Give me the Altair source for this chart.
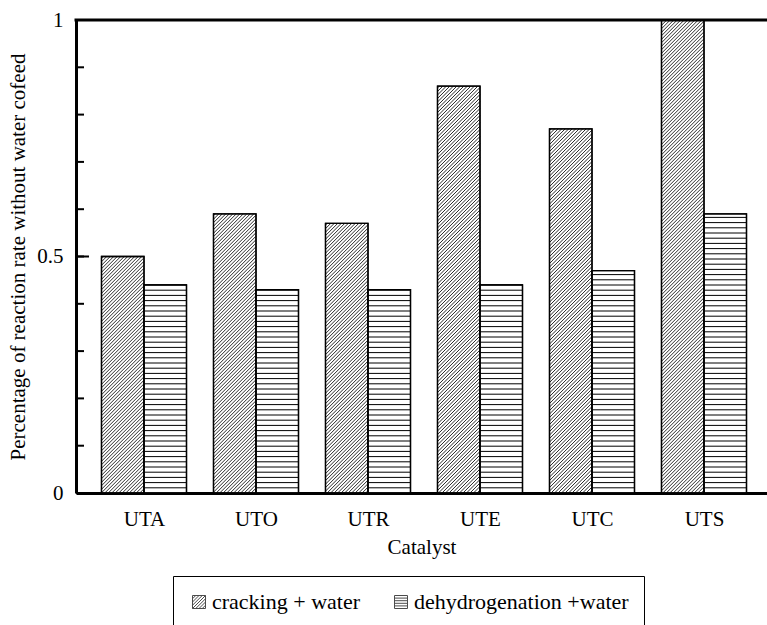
import json
import altair as alt
import pandas as pd

# ---------------- data ----------------
catalysts = ["UTA", "UTO", "UTR", "UTE", "UTC", "UTS"]
series_names = ["cracking + water", "dehydrogenation +water"]
cracking = [0.50, 0.59, 0.57, 0.86, 0.77, 1.00]
dehydrogenation = [0.44, 0.43, 0.43, 0.44, 0.47, 0.59]
y_tick_values = [0, 0.5, 1]
x_title = "Catalyst"
y_title = "Percentage of reaction rate without water cofeed"

rows = []
for i, c in enumerate(catalysts):
    rows.append(dict(catalyst=c, idx=i, s=0, series=series_names[0], value=cracking[i]))
    rows.append(dict(catalyst=c, idx=i, s=1, series=series_names[1], value=dehydrogenation[i]))
df = pd.DataFrame(rows)

# ---------------- layout / style ----------------
PW, PH = 691, 473
LEFT, TOP = 76, 20
KX = 112.0                 # px per category step
X0 = -68.0 / KX
X1 = X0 + PW / KX
KY = float(PH)             # px per y unit
BWPX = 42.5                # bar width in px
BW = BWPX / KX
DIAG = 3.5                 # horizontal spacing of diagonal hatch (px)
HSTEP = 5.2                # spacing of horizontal hatch (px)
FONT = "Liberation Serif"

xscale = alt.Scale(domain=[X0, X1], nice=False, zero=False)
yscale = alt.Scale(domain=[0, 1], nice=False, zero=False)

xaxis = alt.Axis(
    values=list(range(len(catalysts))),
    labelExpr=f"{json.dumps(catalysts)}[datum.value]",
    ticks=False, tickSize=0, grid=False,
    domainColor="black", domainWidth=3,
    labelFont=FONT, labelFontSize=21, labelColor="black", labelPadding=15,
    labelOverlap=False, labelFlush=False,
    title=x_title, titleFont=FONT, titleFontSize=21, titleFontWeight="normal",
    titleColor="black", titleY=60, titleBaseline="alphabetic",
)
yaxis = alt.Axis(
    values=y_tick_values, format="~g",
    ticks=False, tickSize=0, grid=False,
    domainColor="black", domainWidth=3,
    labelFont=FONT, labelFontSize=21, labelColor="black", labelPadding=13,
    title=y_title, titleFont=FONT, titleFontSize=21, titleFontWeight="normal",
    titleColor="black", titleX=-58, titleY=PH / 2, titleAngle=270,
    titleBaseline="middle", titleAlign="center",
)


def X(f):
    return alt.X(f, scale=xscale, axis=xaxis)


def Y(f):
    return alt.Y(f, scale=yscale, axis=yaxis)


base = alt.Chart(df).transform_calculate(
    xa=f"datum.idx + (datum.s == 0 ? {-BW} : 0)",
    xb=f"datum.idx + (datum.s == 0 ? 0 : {BW})",
)

bars = base.mark_rect(fill="white", stroke="black", strokeWidth=1.3).encode(
    x=X("xa:Q"), x2="xb:Q", y=Y("value:Q"), y2=alt.datum(0)
)

# diagonal hatch "////" for cracking bars, clipped to each bar
diag = (
    base.transform_filter("datum.s == 0")
    .transform_calculate(Wp=f"{BWPX}", Hp=f"datum.value * {KY}")
    .transform_calculate(ks=f"sequence(-datum.Hp + {DIAG / 2}, datum.Wp, {DIAG})")
    .transform_flatten(["ks"])
    .transform_calculate(
        X1p="max(0, datum.ks)",
        X2p="min(datum.Wp, datum.Hp + datum.ks)",
    )
    .transform_calculate(
        hx1=f"datum.xa + datum.X1p / {KX}",
        hy1=f"(datum.X1p - datum.ks) / {KY}",
        hx2=f"datum.xa + datum.X2p / {KX}",
        hy2=f"(datum.X2p - datum.ks) / {KY}",
    )
    .mark_rule(color="#111", strokeWidth=0.9)
    .encode(x=X("hx1:Q"), y=Y("hy1:Q"), x2="hx2:Q", y2="hy2:Q")
)

# horizontal hatch for dehydrogenation bars
horiz = (
    base.transform_filter("datum.s == 1")
    .transform_calculate(ys=f"sequence({HSTEP}, datum.value * {KY}, {HSTEP})")
    .transform_flatten(["ys"])
    .transform_calculate(hy=f"datum.ys / {KY}")
    .mark_rule(color="black", strokeWidth=1)
    .encode(x=X("xa:Q"), x2="xb:Q", y=Y("hy:Q"))
)

outline = base.mark_rect(fillOpacity=0, stroke="black", strokeWidth=1.3).encode(
    x=X("xa:Q"), x2="xb:Q", y=Y("value:Q"), y2=alt.datum(0)
)

# inward minor ticks every 0.1, longer major ticks at labelled values
minor = alt.Chart(alt.sequence(0.1, 0.95, 0.1, as_="t")).mark_rule(
    color="black", strokeWidth=2
).encode(y=Y("t:Q"), x=alt.value(0), x2=alt.value(8))

major = alt.Chart(pd.DataFrame({"t": y_tick_values})).mark_rule(
    color="black", strokeWidth=2
).encode(y=Y("t:Q"), x=alt.value(0), x2=alt.value(13))

# top frame line
top_line = alt.Chart(pd.DataFrame({"t": [max(y_tick_values)]})).mark_rule(
    color="black", strokeWidth=3
).encode(y=Y("t:Q"), x=alt.value(-1.5), x2=alt.value(PW))


# legend symbols drawn as custom paths
def diag_path():
    parts = ["M-1,-1H1V1H-1Z"]
    for c in [-1.5, -1.0, -0.5, 0.0, 0.5, 1.0, 1.5]:
        xs = max(-1.0, c - 1.0)
        xe = min(1.0, c + 1.0)
        parts.append(f"M{xs},{c - xs}L{xe},{c - xe}")
    return "".join(parts)


def horiz_path():
    parts = ["M-1,-1H1V1H-1Z"]
    for yv in [-0.6, -0.2, 0.2, 0.6]:
        parts.append(f"M-1,{yv}H1")
    return "".join(parts)


legend_layer = (
    alt.Chart(df)
    .transform_filter("false")
    .mark_point(color="black", filled=False, strokeWidth=1)
    .encode(
        x=X("idx:Q"),
        y=Y("value:Q"),
        shape=alt.Shape(
            "series:N",
            scale=alt.Scale(domain=series_names, range=[diag_path(), horiz_path()]),
            legend=alt.Legend(
                orient="none", legendX=97, legendY=556,
                direction="horizontal", title=None,
                strokeColor="black", padding=15,
                labelFont=FONT, labelFontSize=22, labelColor="black",
                labelLimit=400, labelOffset=2, columnPadding=30,
                symbolSize=169, symbolStrokeColor="black", symbolStrokeWidth=1,
            ),
        ),
    )
)

chart = (
    alt.layer(bars, diag, horiz, outline, minor, major, top_line, legend_layer)
    .properties(
        width=PW,
        height=PH,
        autosize=alt.AutoSizeParams(type="none"),
        padding={"left": LEFT, "top": TOP, "right": 0, "bottom": 625 - TOP - PH},
    )
    .configure(font=FONT)
    .configure_view(stroke="transparent")
)

chart.save("out.html", embed_options={"renderer": "svg", "actions": False})
